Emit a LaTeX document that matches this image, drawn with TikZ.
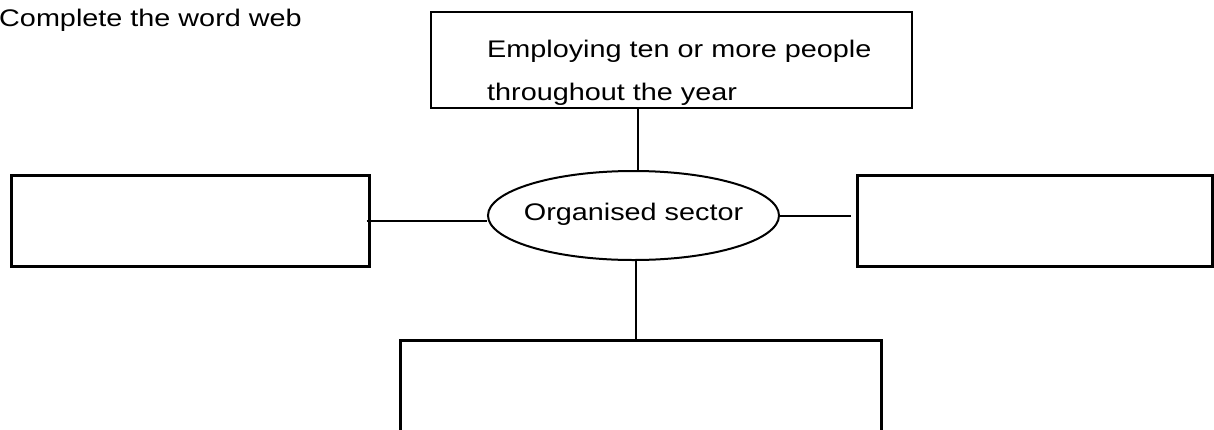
\documentclass[tikz,border=0pt]{standalone}
\usepackage{fontspec}
\setmainfont{Liberation Sans}[FakeStretch=1.2]
\usetikzlibrary{positioning, shapes}

\begin{document}
\begin{tikzpicture}[x=1pt,y=-1pt,font=\fontsize{24}{42.5}\selectfont]
		\tikzstyle{answer}=[draw, rectangle, line width=3pt, inner sep=0pt]
		\tikzstyle{link}=[line width=2pt]
		\useasboundingbox (0,0) rectangle (1214,429);
		\node[anchor=base west,inner sep=0pt] (task) at (-1,26) {Complete the word web};
		\node[answer,line width=2pt,minimum width=481pt,minimum height=96pt] (employ) at (671.5,60.3) {};
		\node[anchor=north west,align=left,inner sep=0pt] (employText) at (487,40) {Employing ten or more people\\throughout the year};
		\node[draw,ellipse,line width=2pt,inner sep=0pt,minimum width=291pt,minimum height=89pt,
			label={[inner sep=0pt,yshift=1.5pt]center:Organised sector}] (hub) at (633.5,215.5) {};
		\node[answer,minimum width=358pt,minimum height=91pt] (left) at (190,220.5) {};
		\node[answer,minimum width=355pt,minimum height=91pt] (right) at (1034.5,220.5) {};
		\node[answer,minimum width=481pt,minimum height=120pt] (bottom) at (640.5,400) {};
		\draw[link] ([xshift=-33.5pt]employ.south) -- ([xshift=4.5pt]hub.north);
		\draw[link] ([xshift=-4pt]left.east) -- (hub.west |- left.east);
		\draw[link] (hub.east) -- ([xshift=-5pt]right.west |- hub.east);
		\draw[link] ([xshift=2.5pt]hub.south) -- ([xshift=2.5pt]hub.south |- bottom.north);
\end{tikzpicture}
\end{document}
